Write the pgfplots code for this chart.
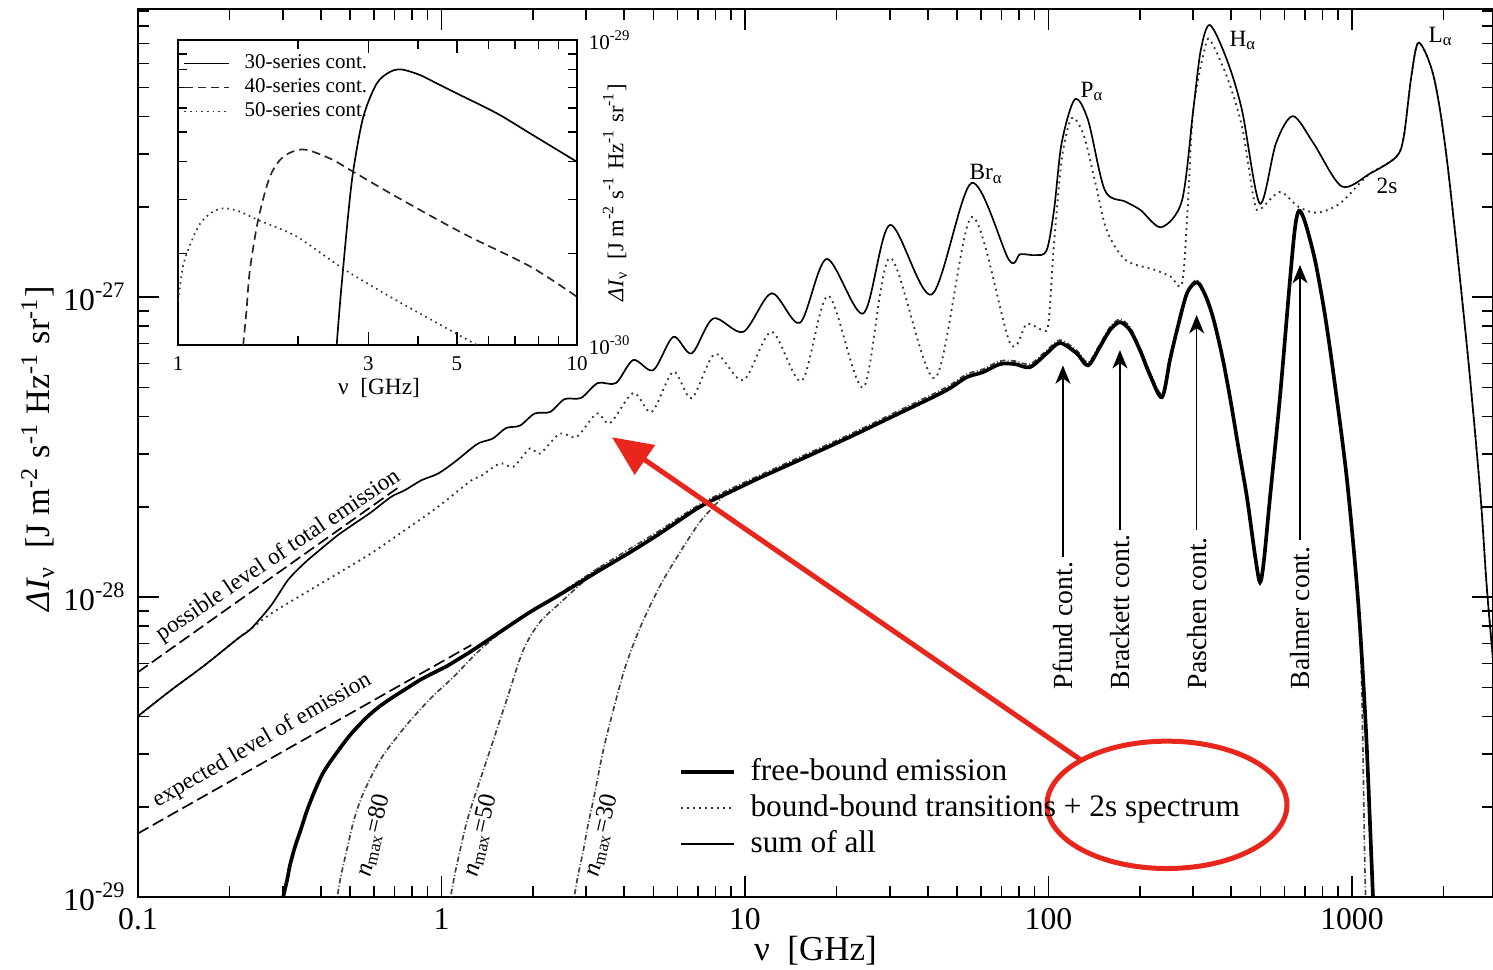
\documentclass[border=0pt]{standalone}
\usepackage{fontspec}
\setmainfont{Liberation Serif}
\usepackage{pgfplots}
\pgfplotsset{compat=1.18}
\usetikzlibrary{arrows.meta}
\definecolor{annot}{RGB}{232,38,28}
\newcommand{\fsz}[1]{\fontsize{#1}{#1}\selectfont}

\tikzset{
  fb/.style={black, line width=1.1pt},
  bb/.style={black!80, line width=0.55pt, dash pattern=on 0.55pt off 1.25pt},
  tot/.style={black, line width=0.5pt},
  nmax/.style={black!75, line width=0.5pt, dash pattern=on 1.6pt off 0.7pt on 0.3pt off 0.7pt},
  lev/.style={black, line width=0.5pt, dash pattern=on 3.6pt off 1.5pt},
  contarrow/.style={black, line width=0.45pt, -{Stealth[length=5.5pt,width=4.5pt,inset=1.6pt]}},
  contlabel/.style={rotate=90, anchor=west, inner sep=0pt, font=\fsz{8.3}},
  linelabel/.style={anchor=base west, inner sep=0pt, font=\fsz{7}},
}

\begin{document}
\begin{tikzpicture}
\begin{axis}[
  at={(0pt,0pt)}, anchor=south west,
  scale only axis, width=406.5pt, height=266.4pt,
  xmode=log, ymode=log,
  xmin=0.1, xmax=2915, ymin=1e-29, ymax=9.12e-27,
  xtick={0.1,1,10,100,1000},
  xticklabels={0.1,1,10,100,1000},
  minor xtick={0.2,0.3,0.4,0.5,0.6,0.7,0.8,0.9,2,3,4,5,6,7,8,9,20,30,40,50,60,70,80,90,200,300,400,500,600,700,800,900,2000},
  ytick={1e-29,1e-28,1e-27},
  yticklabels={10\textsuperscript{-29},10\textsuperscript{-28},10\textsuperscript{-27}},
  minor ytick={2e-29,3e-29,4e-29,5e-29,6e-29,7e-29,8e-29,9e-29,2e-28,3e-28,4e-28,5e-28,6e-28,7e-28,8e-28,9e-28,2e-27,3e-27,4e-27,5e-27,6e-27,7e-27,8e-27,9e-27},
  major tick length=6.2pt, minor tick length=3.4pt,
  tick style={black, line width=0.5pt},
  axis line style={line width=0.6pt},
  tick label style={font=\fsz{9.5}},
  xlabel={ν\enspace[GHz]},
  ylabel={\textit{ΔI}\textsubscript{ν}\enspace[J m\textsuperscript{-2} s\textsuperscript{-1} Hz\textsuperscript{-1} sr\textsuperscript{-1}]},
  every axis x label/.style={at={(axis description cs:0.5,-0.06)}, anchor=center, font=\fsz{10.5}},
  every axis y label/.style={at={(axis description cs:-0.074,0.505)}, rotate=90, anchor=center, font=\fsz{10.3}},
  legend style={draw=none, fill=none, at={(0.3987,0.162)}, anchor=north west,
    inner sep=0pt, column sep=2.3pt, row sep=0pt, font=\fsz{9.4},
    nodes={inner xsep=2pt, inner ysep=0.7pt, text height=7.2pt, text depth=2.2pt}},
  legend cell align=left,
  legend image code/.code={\draw[#1] (0pt,0pt) -- (15.9pt,0pt);},
]
\addlegendimage{fb, line width=1.3pt}
\addlegendentry{free-bound emission}
\addlegendimage{bb}
\addlegendentry{bound-bound transitions + 2s spectrum}
\addlegendimage{tot}
\addlegendentry{sum of all}

% bound-bound transitions + 2s spectrum
\addplot[bb, smooth, tension=0.5, forget plot] coordinates {
(0.1,4.01e-29) (0.1287,4.90e-29) (0.1659,5.93e-29) (0.2135,7.28e-29) (0.2362,7.86e-29)
(0.2750,8.82e-29) (0.3542,1.03e-28) (0.4560,1.20e-28) (0.5870,1.40e-28) (0.7565,1.67e-28)
(0.9738,2.00e-28) (1.254,2.45e-28) (1.339,2.52e-28) (1.559,2.79e-28) (1.724,2.72e-28)
(1.957,3.13e-28) (2.112,3.01e-28) (2.457,3.51e-28) (2.789,3.42e-28) (3.246,4.09e-28)
(3.591,3.80e-28) (4.285,4.79e-28) (4.928,4.14e-28) (5.805,5.64e-28) (6.673,4.60e-28)
(7.967,6.46e-28) (9.872,5.28e-28) (12.24,7.66e-28) (15.38,5.26e-28) (18.82,1.01e-27)
(24.54,5.00e-28) (30.05,1.35e-27) (42.27,5.37e-28) (55.85,1.85e-27) (74.67,7.04e-28)
(84.77,8.13e-28) (95.84,7.76e-28) (100.0,8.19e-28) (104.3,1.51e-27) (110.5,2.86e-27)
(117.0,3.79e-27) (122.1,3.94e-27) (131.2,3.42e-27) (142.8,2.40e-27) (155.6,1.67e-27)
(179.5,1.33e-27) (225.4,1.23e-27) (252.7,1.17e-27) (275.4,1.11e-27) (287.3,1.95e-27)
(299.9,4.20e-27) (326.6,6.66e-27) (340.6,7.19e-27) (387.4,5.42e-27) (434.1,3.70e-27)
(473.3,2.16e-27) (493.9,1.95e-27) (577.9,2.24e-27) (666.4,2.00e-27) (768.6,1.91e-27)
(911.6,2.05e-27) (1082,2.45e-27) (1146,2.58e-27) (1398,2.93e-27) (1481,3.42e-27)
(1568,5.42e-27) (1660,7.05e-27) (1860,5.42e-27) (2056,2.86e-27) (2388,6.97e-28)
(2641,2.29e-28) (2779,1.09e-28) (2921,6.03e-29) (3073,3.21e-29)};

% sum of all
\addplot[tot, smooth, tension=0.5, forget plot] coordinates {
(0.1,4.01e-29) (0.1287,4.90e-29) (0.1659,5.93e-29) (0.2135,7.28e-29) (0.2362,7.86e-29)
(0.2750,9.40e-29) (0.3121,1.14e-28) (0.3542,1.30e-28) (0.4018,1.45e-28) (0.4560,1.61e-28)
(0.5176,1.76e-28) (0.5870,1.92e-28) (0.6833,2.16e-28) (0.7565,2.27e-28) (0.8579,2.45e-28)
(0.9738,2.58e-28) (1.105,2.82e-28) (1.254,3.13e-28) (1.335,3.27e-28) (1.478,3.38e-28)
(1.632,3.66e-28) (1.814,3.73e-28) (2.027,4.09e-28) (2.278,4.14e-28) (2.546,4.57e-28)
(2.882,4.61e-28) (3.273,5.17e-28) (3.758,5.17e-28) (4.285,6.17e-28) (4.988,5.71e-28)
(5.805,7.37e-28) (6.673,6.49e-28) (7.865,8.49e-28) (9.872,7.66e-28) (12.24,1.03e-27)
(15.18,8.21e-28) (18.59,1.34e-27) (24.54,8.82e-28) (30.05,1.74e-27) (41.23,1.02e-27)
(55.77,2.40e-27) (74.11,1.33e-27) (80.74,1.39e-27) (90.45,1.38e-27) (98.57,1.43e-27)
(104.3,1.95e-27) (110.5,3.26e-27) (122.1,4.56e-27) (135.0,3.89e-27) (153.4,2.27e-27)
(179.5,2.08e-27) (201.1,1.95e-27) (235.3,1.71e-27) (275.4,2.10e-27) (299.9,4.20e-27)
(317.6,6.66e-27) (340.6,8.07e-27) (387.4,6.17e-27) (434.1,4.20e-27) (496.9,2.05e-27)
(562.0,3.26e-27) (638.8,4.01e-27) (746.7,3.26e-27) (924.8,2.34e-27) (1146,2.58e-27)
(1398,2.93e-27) (1481,3.42e-27) (1568,5.42e-27) (1660,7.05e-27) (1860,5.42e-27)
(2056,2.86e-27) (2388,6.97e-28) (2641,2.29e-28) (2779,1.09e-28) (2921,6.03e-29) (3073,3.21e-29)};

% free-bound emission for truncated level sums (n_max = 80, 50, 30)
\addplot[nmax, smooth, forget plot] coordinates {
(0.4519,9.40e-30) (0.4536,1.00e-29) (0.4666,1.18e-29) (0.4872,1.43e-29) (0.5149,1.81e-29)
(0.5526,2.22e-29) (0.6272,2.86e-29) (0.7119,3.41e-29) (0.8074,3.98e-29) (0.9376,4.68e-29)
(1.094,5.41e-29) (1.306,6.51e-29) (1.559,7.59e-29) (1.957,8.91e-29) (2.457,1.03e-28) (3.328,1.26e-28)};
\addplot[nmax, smooth, forget plot] coordinates {
(1.071,9.40e-30) (1.072,1.00e-29) (1.108,1.20e-29) (1.151,1.43e-29) (1.204,1.74e-29)
(1.273,2.10e-29) (1.409,2.86e-29) (1.640,4.54e-29) (1.860,6.66e-29) (2.112,8.26e-29)
(2.457,9.55e-29) (2.860,1.10e-28) (3.328,1.26e-28)};
\addplot[nmax, smooth, forget plot] coordinates {
(2.733,9.40e-30) (2.739,1.00e-29) (2.817,1.18e-29) (2.933,1.43e-29) (3.039,1.74e-29)
(3.164,2.10e-29) (3.414,3.09e-29) (3.683,4.20e-29) (4.022,5.80e-29) (4.508,7.90e-29)
(5.248,1.09e-28) (6.107,1.41e-28) (7.108,1.78e-28) (8.270,2.11e-28) (8.926,2.29e-28)};
\addplot[nmax, smooth, tension=0.5, forget plot] coordinates {
(3.328,1.26e-28) (4.179,1.45e-28) (5.248,1.67e-28) (7.108,2.04e-28) (8.926,2.29e-28)
(11.21,2.55e-28) (15.18,2.93e-28) (22.18,3.49e-28) (32.41,4.20e-28) (41.63,4.75e-28)
(47.36,5.09e-28) (53.88,5.54e-28) (60.84,5.75e-28) (69.22,6.12e-28) (77.57,6.12e-28)
(86.90,5.98e-28) (98.63,6.64e-28) (109.1,7.19e-28) (123.9,6.64e-28) (135.0,6.06e-28)
(147.8,6.98e-28) (159.4,7.94e-28) (172.0,8.44e-28) (185.6,7.94e-28) (200.1,6.81e-28)
(215.9,5.62e-28) (236.6,4.75e-28) (251.3,6.24e-28) (265.1,7.86e-28) (286.0,1.04e-27)
(308.5,1.14e-27) (327.8,1.03e-27) (348.3,8.67e-28) (372.9,6.49e-28) (396.3,4.70e-28)
(421.0,3.25e-28) (450.8,2.18e-28) (479.1,1.40e-28) (497.7,1.14e-28) (512.9,1.34e-28)
(537.0,2.18e-28) (579.1,4.70e-28) (624.8,1.15e-27) (649.0,1.72e-27) (669.0,1.96e-27)
(700.1,1.80e-27) (755.2,1.34e-27) (814.7,8.81e-28) (879.0,5.15e-28) (962.7,2.46e-28)
(1063,7.52e-29) (1104,1.18e-29) (1116,9.40e-30)};

% free-bound emission
\addplot[fb, smooth, tension=0.5, forget plot] coordinates {
(0.299,9.2e-30) (0.301,1.00e-29) (0.310,1.14e-29) (0.317,1.28e-29) (0.329,1.47e-29)
(0.342,1.65e-29) (0.361,1.95e-29) (0.383,2.27e-29) (0.407,2.59e-29) (0.439,2.91e-29)
(0.500,3.47e-29) (0.568,3.98e-29) (0.627,4.33e-29) (0.692,4.64e-29) (0.770,4.97e-29)
(0.849,5.29e-29) (0.938,5.58e-29) (1.043,5.89e-29) (1.151,6.26e-29) (1.241,6.56e-29)
(1.391,7.08e-29) (1.559,7.65e-29) (1.957,8.91e-29) (2.457,1.02e-28) (3.328,1.23e-28)
(4.179,1.41e-28) (5.248,1.63e-28) (7.108,2.00e-28) (8.926,2.24e-28) (11.21,2.50e-28)
(15.18,2.87e-28) (22.18,3.42e-28) (32.41,4.11e-28) (41.63,4.64e-28) (47.36,4.97e-28)
(53.88,5.41e-28) (60.84,5.62e-28) (69.22,5.98e-28) (77.57,5.98e-28) (86.90,5.84e-28)
(98.63,6.49e-28) (109.1,7.03e-28) (123.9,6.49e-28) (135.0,5.92e-28) (147.8,6.83e-28)
(159.4,7.76e-28) (172.0,8.25e-28) (185.6,7.76e-28) (200.1,6.66e-28) (215.9,5.50e-28)
(236.6,4.64e-28) (251.3,6.17e-28) (265.1,7.76e-28) (286.0,1.03e-27) (308.5,1.12e-27)
(327.8,1.02e-27) (348.3,8.57e-28) (372.9,6.41e-28) (396.3,4.64e-28) (421.0,3.22e-28)
(450.8,2.15e-28) (479.1,1.38e-28) (497.7,1.12e-28) (512.9,1.33e-28) (537.0,2.15e-28)
(579.1,4.64e-28) (624.8,1.14e-27) (649.0,1.70e-27) (669.0,1.94e-27) (700.1,1.78e-27)
(755.2,1.33e-27) (814.7,8.71e-28) (879.0,5.09e-28) (962.7,2.46e-28) (1047,9.77e-29)
(1112,3.60e-29) (1173,1.00e-29) (1200,6.17e-30)};

% possible and expected emission levels
\addplot[lev, forget plot] coordinates {(0.1,5.62e-29) (0.730,2.34e-28)};
\addplot[lev, forget plot] coordinates {(0.1,1.63e-29) (1.254,6.92e-29)};

\node[rotate=34, anchor=base west, inner sep=0pt, font=\fsz{7}] at (axis cs:0.1191,7.10e-29) {possible level of total emission};
\node[rotate=30, anchor=base west, inner sep=0pt, font=\fsz{7}] at (axis cs:0.1155,1.98e-29) {expected level of emission};

\node[rotate=77, anchor=base west, inner sep=0pt, font=\fsz{7.5}] at (axis cs:0.5812,1.157e-29) {\textit{n}\textsubscript{max}=80};
\node[rotate=77, anchor=base west, inner sep=0pt, font=\fsz{7.5}] at (axis cs:1.309,1.157e-29) {\textit{n}\textsubscript{max}=50};
\node[rotate=77, anchor=base west, inner sep=0pt, font=\fsz{7.5}] at (axis cs:3.278,1.157e-29) {\textit{n}\textsubscript{max}=30};

% line identifications
\node[linelabel] at (axis cs:54.7,2.46e-27) {Br\textsubscript{α}};
\node[linelabel] at (axis cs:127.0,4.64e-27) {P\textsubscript{α}};
\node[linelabel] at (axis cs:393.3,6.87e-27) {H\textsubscript{α}};
\node[linelabel] at (axis cs:1780,7.08e-27) {L\textsubscript{α}};
\node[linelabel] at (axis cs:1200,2.22e-27) {2s};

% recombination continua
\draw[contarrow] (axis cs:111.6,1.36e-28) -- (axis cs:111.6,5.92e-28);
\draw[contarrow] (axis cs:172.0,1.67e-28) -- (axis cs:172.0,6.66e-28);
\draw[contarrow] (axis cs:307.8,1.67e-28) -- (axis cs:307.8,8.71e-28);
\draw[contarrow] (axis cs:674.2,1.55e-28) -- (axis cs:674.2,1.28e-27);
\node[contlabel] at (axis cs:111.6,4.90e-29) {Pfund cont.};
\node[contlabel] at (axis cs:172.0,4.90e-29) {Brackett cont.};
\node[contlabel] at (axis cs:307.8,4.90e-29) {Paschen cont.};
\node[contlabel] at (axis cs:674.2,4.90e-29) {Balmer cont.};

% highlight
\draw[annot, line width=1.5pt] (axis cs:245.7,2.03e-29) ellipse [x radius=36pt, y radius=19.1pt];
\draw[annot, line width=1.5pt, -{Triangle[length=12pt,width=10.5pt]}] (axis cs:127.0,2.88e-29) -- (axis cs:3.646,3.41e-28);
\end{axis}

% inset: individual series continua
\begin{axis}[
  at={(12pt,165.6pt)}, anchor=south west,
  scale only axis, width=119.7pt, height=91.5pt,
  xmode=log, ymode=log, xmin=1, xmax=10, ymin=1e-30, ymax=1e-29,
  xtick={1,3,5,10}, xticklabels={1,3,5,10},
  minor xtick={2,4,6,7,8,9},
  ytick={1e-30,1e-29}, yticklabels={10\textsuperscript{-30},10\textsuperscript{-29}},
  minor ytick={2e-30,3e-30,4e-30,5e-30,6e-30,7e-30,8e-30,9e-30},
  yticklabel pos=right,
  major tick length=4pt, minor tick length=2.6pt,
  tick style={black, line width=0.45pt},
  axis line style={line width=0.55pt},
  axis background/.style={fill=white},
  tick label style={font=\fsz{6.3}},
  xlabel={ν\enspace[GHz]},
  ylabel={\textit{ΔI}\textsubscript{ν}\enspace[J m\textsuperscript{-2} s\textsuperscript{-1} Hz\textsuperscript{-1} sr\textsuperscript{-1}]},
  every axis x label/.style={at={(axis description cs:0.504,-0.141)}, anchor=center, font=\fsz{7}},
  every axis y label/.style={at={(axis description cs:1.095,0.5)}, rotate=90, anchor=center, font=\fsz{6.8}},
  legend style={draw=none, fill=none, at={(0.0125,0.965)}, anchor=north west,
    inner sep=0pt, column sep=2.8pt, row sep=0pt, font=\fsz{6.3},
    nodes={inner xsep=1.5pt, inner ysep=0.7pt, text height=4.4pt, text depth=1.4pt}},
  legend cell align=left,
  legend image code/.code={\draw[#1] (0pt,0pt) -- (13.5pt,0pt);},
]
\addplot[black, line width=0.5pt, smooth] coordinates {
(2.49,9.0e-31) (2.499,1.00e-30) (2.547,1.37e-30) (2.596,1.81e-30) (2.672,2.70e-30)
(2.751,3.75e-30) (2.913,5.60e-30) (3.149,7.21e-30) (3.401,7.87e-30) (3.638,8.01e-30)
(4.044,7.68e-30) (4.454,7.21e-30) (4.902,6.77e-30) (6.301,5.75e-30) (7.638,4.94e-30) (10,3.99e-30)};
\addlegendentry{30-series cont.}
\addplot[black!85, line width=0.5pt, dash pattern=on 2.5pt off 1.5pt, smooth] coordinates {
(1.45,9.0e-31) (1.457,1.00e-30) (1.485,1.30e-30) (1.514,1.76e-30) (1.588,2.57e-30)
(1.699,3.56e-30) (1.835,4.14e-30) (2.060,4.38e-30) (2.404,4.09e-30) (2.751,3.70e-30)
(3.534,3.06e-30) (5.194,2.32e-30) (7.638,1.81e-30) (10,1.44e-30)};
\addlegendentry{40-series cont.}
\addplot[black!80, line width=0.5pt, dash pattern=on 0.5pt off 1.2pt, smooth] coordinates {
(1.0,1.40e-30) (1.006,1.48e-30) (1.029,1.81e-30) (1.06,2.05e-30) (1.112,2.38e-30)
(1.155,2.57e-30) (1.224,2.74e-30) (1.31,2.81e-30) (1.428,2.74e-30) (1.588,2.57e-30)
(1.983,2.27e-30) (2.596,1.78e-30) (3.534,1.40e-30) (5.614,1.00e-30) (6.3,9.15e-31)};
\addlegendentry{50-series cont.}
\end{axis}

\pgfresetboundingbox
\path[use as bounding box] (-41.4pt,-21.9pt) rectangle (406.5pt,269.1pt);
\end{tikzpicture}
\end{document}
